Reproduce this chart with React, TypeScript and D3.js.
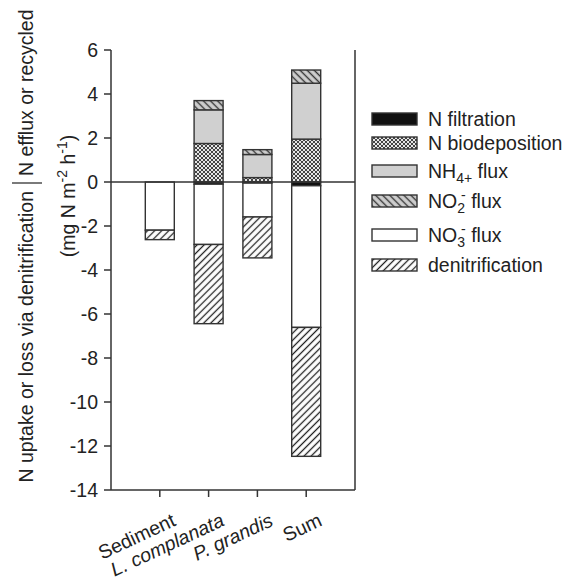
import React from "react";
import * as d3 from "d3";

const categories = ["Sediment", "L. complanata", "P. grandis", "Sum"];
const italicCats = [false, true, true, false];
const filtration = [0, -0.1, -0.05, -0.17];
const biodeposition = [0, 1.75, 0.2, 1.95];
const nh4Flux = [0, 1.53, 1.05, 2.54];
const no2Flux = [0, 0.42, 0.22, 0.6];
const no3Flux = [-2.19, -2.74, -1.54, -6.44];
const denitrification = [-0.43, -3.6, -1.86, -5.86];
const yTicks = [-14, -12, -10, -8, -6, -4, -2, 0, 2, 4, 6];

const W = 574;
const H = 579;
const x = d3.scaleLinear().domain([0, 5]).range([111, 355]);
const y = d3.scaleLinear().domain([-14, 6]).range([490, 50]);
const barW = 29;
const FONT = "Liberation Sans, Arial, sans-serif";
const STROKE = "#333";
const FS = 19.5;
const FSS = 14;

type Seg = { key: string; fill: string; v0: number; v1: number };

function stacks(i: number): Seg[] {
  const segs: Seg[] = [];
  let pos = 0;
  const posSeries: [string, number[], string][] = [
    ["bio", biodeposition, "url(#pBio)"],
    ["nh4", nh4Flux, "#d0d0d0"],
    ["no2", no2Flux, "url(#pNo2)"],
  ];
  for (const [k, arr, f] of posSeries) {
    if (arr[i] !== 0) {
      segs.push({ key: k, fill: f, v0: pos, v1: pos + arr[i] });
      pos += arr[i];
    }
  }
  let neg = 0;
  const negSeries: [string, number[], string][] = [
    ["filt", filtration, "#111"],
    ["no3", no3Flux, "#fff"],
    ["den", denitrification, "url(#pDen)"],
  ];
  for (const [k, arr, f] of negSeries) {
    if (arr[i] !== 0) {
      segs.push({ key: k, fill: f, v0: neg, v1: neg + arr[i] });
      neg += arr[i];
    }
  }
  return segs;
}

const legendRows = [
  { fill: "#111", cy: 119 },
  { fill: "url(#pBio)", cy: 143 },
  { fill: "#d0d0d0", cy: 171 },
  { fill: "url(#pNo2)", cy: 201 },
  { fill: "#fff", cy: 235 },
  { fill: "url(#pDen)", cy: 265 },
];

export default function App() {
  return (
    <svg
      width={W}
      height={H}
      style={{ position: "absolute", left: 0, top: 0, background: "#fff" }}
      fontFamily={FONT}
    >
      <defs>
        <pattern id="pDen" width="5" height="5" patternUnits="userSpaceOnUse" patternTransform="rotate(45)">
          <rect width="5" height="5" fill="#fff" />
          <line x1="2.5" y1="0" x2="2.5" y2="5" stroke="#222" strokeWidth="1.3" />
        </pattern>
        <pattern id="pNo2" width="5" height="5" patternUnits="userSpaceOnUse" patternTransform="rotate(-45)">
          <rect width="5" height="5" fill="#cfcfcf" />
          <line x1="2.5" y1="0" x2="2.5" y2="5" stroke="#333" strokeWidth="1.4" />
        </pattern>
        <pattern id="pBio" width="4" height="4" patternUnits="userSpaceOnUse">
          <rect width="4" height="4" fill="#e6e6e6" />
          <path d="M0,0 L4,4 M4,0 L0,4" stroke="#444" strokeWidth="1" />
        </pattern>
      </defs>

      {/* bars */}
      {categories.map((c, i) => {
        const cx = x(i + 1);
        return (
          <g key={c}>
            {stacks(i).map((s) => {
              const top = y(Math.max(s.v0, s.v1));
              const bot = y(Math.min(s.v0, s.v1));
              return (
                <rect
                  key={s.key}
                  x={cx - barW / 2}
                  y={top}
                  width={barW}
                  height={Math.max(bot - top, 0.5)}
                  fill={s.fill}
                  stroke={STROKE}
                  strokeWidth={1.4}
                />
              );
            })}
          </g>
        );
      })}

      {/* zero line */}
      <line x1={x(0)} x2={x(5)} y1={y(0)} y2={y(0)} stroke={STROKE} strokeWidth={1.5} />

      {/* axes frame */}
      <line x1={x(0)} x2={x(0)} y1={y(6)} y2={y(-14)} stroke={STROKE} strokeWidth={1.5} />
      <line x1={x(5)} x2={x(5)} y1={y(6)} y2={y(-14)} stroke={STROKE} strokeWidth={1.5} />
      <line x1={x(0)} x2={x(5)} y1={y(-14)} y2={y(-14)} stroke={STROKE} strokeWidth={1.5} />

      {/* y ticks */}
      {yTicks.map((t) => (
        <g key={t}>
          <line x1={x(0) - 7} x2={x(0)} y1={y(t)} y2={y(t)} stroke={STROKE} strokeWidth={1.5} />
          <text x={x(0) - 13} y={y(t)} dy="0.36em" textAnchor="end" fontSize={FS} fill="#222">
            {t}
          </text>
        </g>
      ))}

      {/* x ticks and labels */}
      {categories.map((c, i) => (
        <g key={c}>
          <line x1={x(i + 1)} x2={x(i + 1)} y1={y(-14)} y2={y(-14) + 7} stroke={STROKE} strokeWidth={1.5} />
          <text
            transform={`translate(${x(i + 1) + 17},${y(-14) + 35}) rotate(-25)`}
            textAnchor="end"
            fontSize={FS}
            fontStyle={italicCats[i] ? "italic" : "normal"}
            fill="#222"
          >
            {c}
          </text>
        </g>
      ))}

      {/* y axis title */}
      <g fill="#222" fontSize={FS}>
        <text transform={`translate(33,${y(0) + 9}) rotate(-90)`} textAnchor="end">
          N uptake or loss via denitrification
        </text>
        <line x1={12} x2={42} y1={y(0) + 1} y2={y(0) + 1} stroke="#222" strokeWidth={1.2} />
        <text transform={`translate(33,${y(0) - 6}) rotate(-90)`} textAnchor="start">
          N efflux or recycled
        </text>
        <text transform={`translate(75,196) rotate(-90)`} textAnchor="middle">
          (mg N m
          <tspan dy={-8} fontSize={FSS}>-2</tspan>
          <tspan dy={8}> h</tspan>
          <tspan dy={-8} fontSize={FSS}>-1</tspan>
          <tspan dy={8}>)</tspan>
        </text>
      </g>

      {/* legend */}
      {legendRows.map((r, i) => (
        <rect key={i} x={372} y={r.cy - 6} width={45} height={12} fill={r.fill} stroke={STROKE} strokeWidth={1.4} />
      ))}
      <g fontSize={FS} fill="#222">
        <text x={428} y={legendRows[0].cy + 7}>N filtration</text>
        <text x={428} y={legendRows[1].cy + 7}>N biodeposition</text>
        <text x={428} y={legendRows[2].cy + 7}>
          NH
          <tspan dy={5} fontSize={FSS}>4+</tspan>
          <tspan dy={-5}> flux</tspan>
        </text>
        <text x={428} y={legendRows[3].cy + 7}>
          NO
          <tspan dy={5} fontSize={FSS}>2</tspan>
          <tspan dy={-13} dx={-4} fontSize={FSS}>-</tspan>
          <tspan dy={8}> flux</tspan>
        </text>
        <text x={428} y={legendRows[4].cy + 7}>
          NO
          <tspan dy={5} fontSize={FSS}>3</tspan>
          <tspan dy={-13} dx={-4} fontSize={FSS}>-</tspan>
          <tspan dy={8}> flux</tspan>
        </text>
        <text x={428} y={legendRows[5].cy + 7}>denitrification</text>
      </g>
    </svg>
  );
}
